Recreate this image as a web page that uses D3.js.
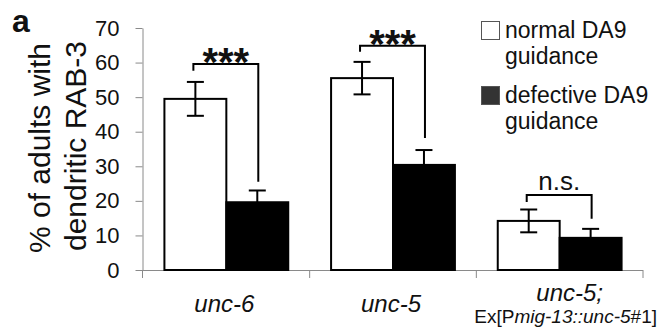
<!DOCTYPE html>
<html>
<head>
<meta charset="utf-8">
<script src="https://cdn.jsdelivr.net/npm/d3@7"></script>
<style>
  body { margin: 0; background: #fff; }
  text { font-family: "Liberation Sans", Arial, sans-serif; fill: #111; }
</style>
</head>
<body>
<script>
const width = 663;
const height = 331;

// data
const categories = ["unc-6", "unc-5", "unc-5;"];
const normalVals = [49.5, 55.5, 14.2];
const normalErr = [4.9, 4.7, 3.3];
const defectVals = [19.6, 30.4, 9.3];
const defectErr = [3.4, 4.3, 2.6];
const yTicks = [0, 10, 20, 30, 40, 50, 60, 70];
const sigLabels = ["***", "***", "n.s."];
// bracket: top of bracket, end of left leg, end of right leg (in % units)
const bracketTop = [59.6, 64.9, 21.7];
const bracketLeft = [57.6, 63.1, 19.7];
const bracketRight = [25.5, 38.2, 14.8];
const legendLabels = [["normal DA9", "guidance"], ["defective DA9", "guidance"]];

const svg = d3.select("body")
  .append("svg")
  .attr("width", width)
  .attr("height", height);

const margin = {top: 28, left: 143, right: 20, bottom: 61};

const y = d3.scaleLinear()
  .domain([0, 70])
  .range([height - margin.bottom, margin.top]);

// bars
const x = d3.scaleBand()
  .domain(categories)
  .range([margin.left, width - margin.right])
  .paddingInner(0.257)
  .paddingOuter(0.1285);
// category boundaries for the axis ticks
const xAxis = d3.scaleBand()
  .domain(categories)
  .range([margin.left, width - margin.right])
  .padding(0);

const half = x.bandwidth() / 2;
const axisColor = "#8a8a8a";

// y axis
const gy = svg.append("g")
  .attr("transform", `translate(${margin.left - 0.5},0)`)
  .call(d3.axisLeft(y).tickValues(yTicks).tickSize(7).tickSizeOuter(0).tickPadding(16));
gy.select(".domain").attr("stroke", axisColor);
gy.selectAll(".tick line").attr("stroke", axisColor);
gy.selectAll(".tick text")
  .attr("font-size", 22)
  .attr("font-family", "Liberation Sans, Arial, sans-serif")
  .attr("fill", "#111");

// x axis line and boundary ticks
svg.append("line")
  .attr("x1", margin.left).attr("x2", width - margin.right)
  .attr("y1", y(0) + 0.5).attr("y2", y(0) + 0.5)
  .attr("stroke", axisColor);
svg.selectAll(".xtick")
  .data([margin.left - 0.5].concat(categories.map(c => xAxis(c) + xAxis.bandwidth())))
  .enter().append("line")
  .attr("x1", d => d).attr("x2", d => d)
  .attr("y1", y(0)).attr("y2", y(0) + 8)
  .attr("stroke", axisColor);

// white bars
svg.selectAll(".normal")
  .data(categories)
  .enter().append("rect")
  .attr("x", c => x(c))
  .attr("y", (c, i) => y(normalVals[i]))
  .attr("width", half)
  .attr("height", (c, i) => y(0) - y(normalVals[i]))
  .attr("fill", "#fff")
  .attr("stroke", "#000")
  .attr("stroke-width", 2);

// black bars
svg.selectAll(".defect")
  .data(categories)
  .enter().append("rect")
  .attr("x", c => x(c) + half)
  .attr("y", (c, i) => y(defectVals[i]))
  .attr("width", half)
  .attr("height", (c, i) => y(0) - y(defectVals[i]))
  .attr("fill", "#000")
  .attr("stroke", "#000")
  .attr("stroke-width", 2);

// error bars
const errData = [];
categories.forEach((c, i) => {
  errData.push({cx: x(c) + half / 2, v: normalVals[i], e: normalErr[i]});
  errData.push({cx: x(c) + half * 1.5, v: defectVals[i], e: defectErr[i]});
});
const capW = 8.5;
const eg = svg.append("g").attr("stroke", "#000").attr("stroke-width", 2);
errData.forEach(d => {
  eg.append("line").attr("x1", d.cx).attr("x2", d.cx)
    .attr("y1", y(d.v - d.e)).attr("y2", y(d.v + d.e));
  eg.append("line").attr("x1", d.cx - capW).attr("x2", d.cx + capW)
    .attr("y1", y(d.v + d.e)).attr("y2", y(d.v + d.e));
  eg.append("line").attr("x1", d.cx - capW).attr("x2", d.cx + capW)
    .attr("y1", y(d.v - d.e)).attr("y2", y(d.v - d.e));
});

// significance brackets
categories.forEach((c, i) => {
  const xl = x(c) + half / 2 - 2;
  const xr = x(c) + half * 1.5 + 1;
  svg.append("path")
    .attr("d", `M${xl},${y(bracketLeft[i])}V${y(bracketTop[i])}H${xr}V${y(bracketRight[i])}`)
    .attr("fill", "none")
    .attr("stroke", "#000")
    .attr("stroke-width", 2);
  const isStar = sigLabels[i] === "***";
  svg.append("text")
    .attr("x", (xl + xr) / 2)
    .attr("y", isStar ? y(bracketTop[i]) + 12 : y(bracketTop[i]) - 5)
    .attr("text-anchor", "middle")
    .attr("font-size", isStar ? 40 : 26)
    .attr("font-weight", isStar ? "bold" : "normal")
    .text(sigLabels[i]);
});

// category labels
svg.append("text")
  .attr("x", xAxis(categories[0]) + xAxis.bandwidth() / 2 - 2)
  .attr("y", 312)
  .attr("text-anchor", "middle")
  .attr("font-size", 24)
  .attr("font-style", "italic")
  .text(categories[0]);
svg.append("text")
  .attr("x", xAxis(categories[1]) + xAxis.bandwidth() / 2 - 2)
  .attr("y", 312)
  .attr("text-anchor", "middle")
  .attr("font-size", 24)
  .attr("font-style", "italic")
  .text(categories[1]);
svg.append("text")
  .attr("x", xAxis(categories[2]) + xAxis.bandwidth() / 2 + 10)
  .attr("y", 301)
  .attr("text-anchor", "middle")
  .attr("font-size", 24)
  .attr("font-style", "italic")
  .text(categories[2]);
const ex = svg.append("text")
  .attr("x", xAxis(categories[2]) + xAxis.bandwidth() / 2 + 6)
  .attr("y", 323)
  .attr("text-anchor", "middle")
  .attr("font-size", 19);
ex.append("tspan").text("Ex[P");
ex.append("tspan").attr("font-style", "italic").text("mig-13::unc-5");
ex.append("tspan").text("#1]");

// y axis title
svg.append("text")
  .attr("transform", "translate(50,148) rotate(-90)")
  .attr("text-anchor", "middle")
  .attr("font-size", 30)
  .text("% of adults with");
svg.append("text")
  .attr("transform", "translate(86,146) rotate(-90)")
  .attr("text-anchor", "middle")
  .attr("font-size", 30)
  .text("dendritic RAB-3");

// panel letter
svg.append("text")
  .attr("x", 12).attr("y", 32)
  .attr("font-size", 32)
  .attr("font-weight", "bold")
  .text("a");

// legend
const legend = svg.append("g").attr("transform", "translate(481,0)");
const legendFill = ["#fff", "#333"];
const legendTop = [21, 86];
legendLabels.forEach((lines, i) => {
  legend.append("rect")
    .attr("x", 0.5).attr("y", legendTop[i] + 0.5)
    .attr("width", 18).attr("height", 18)
    .attr("fill", legendFill[i])
    .attr("stroke", "#555")
    .attr("stroke-width", 1);
  lines.forEach((t, j) => {
    legend.append("text")
      .attr("x", 24)
      .attr("y", legendTop[i] + 17 + j * 26)
      .attr("font-size", 23)
      .text(t);
  });
});
</script>
</body>
</html>
